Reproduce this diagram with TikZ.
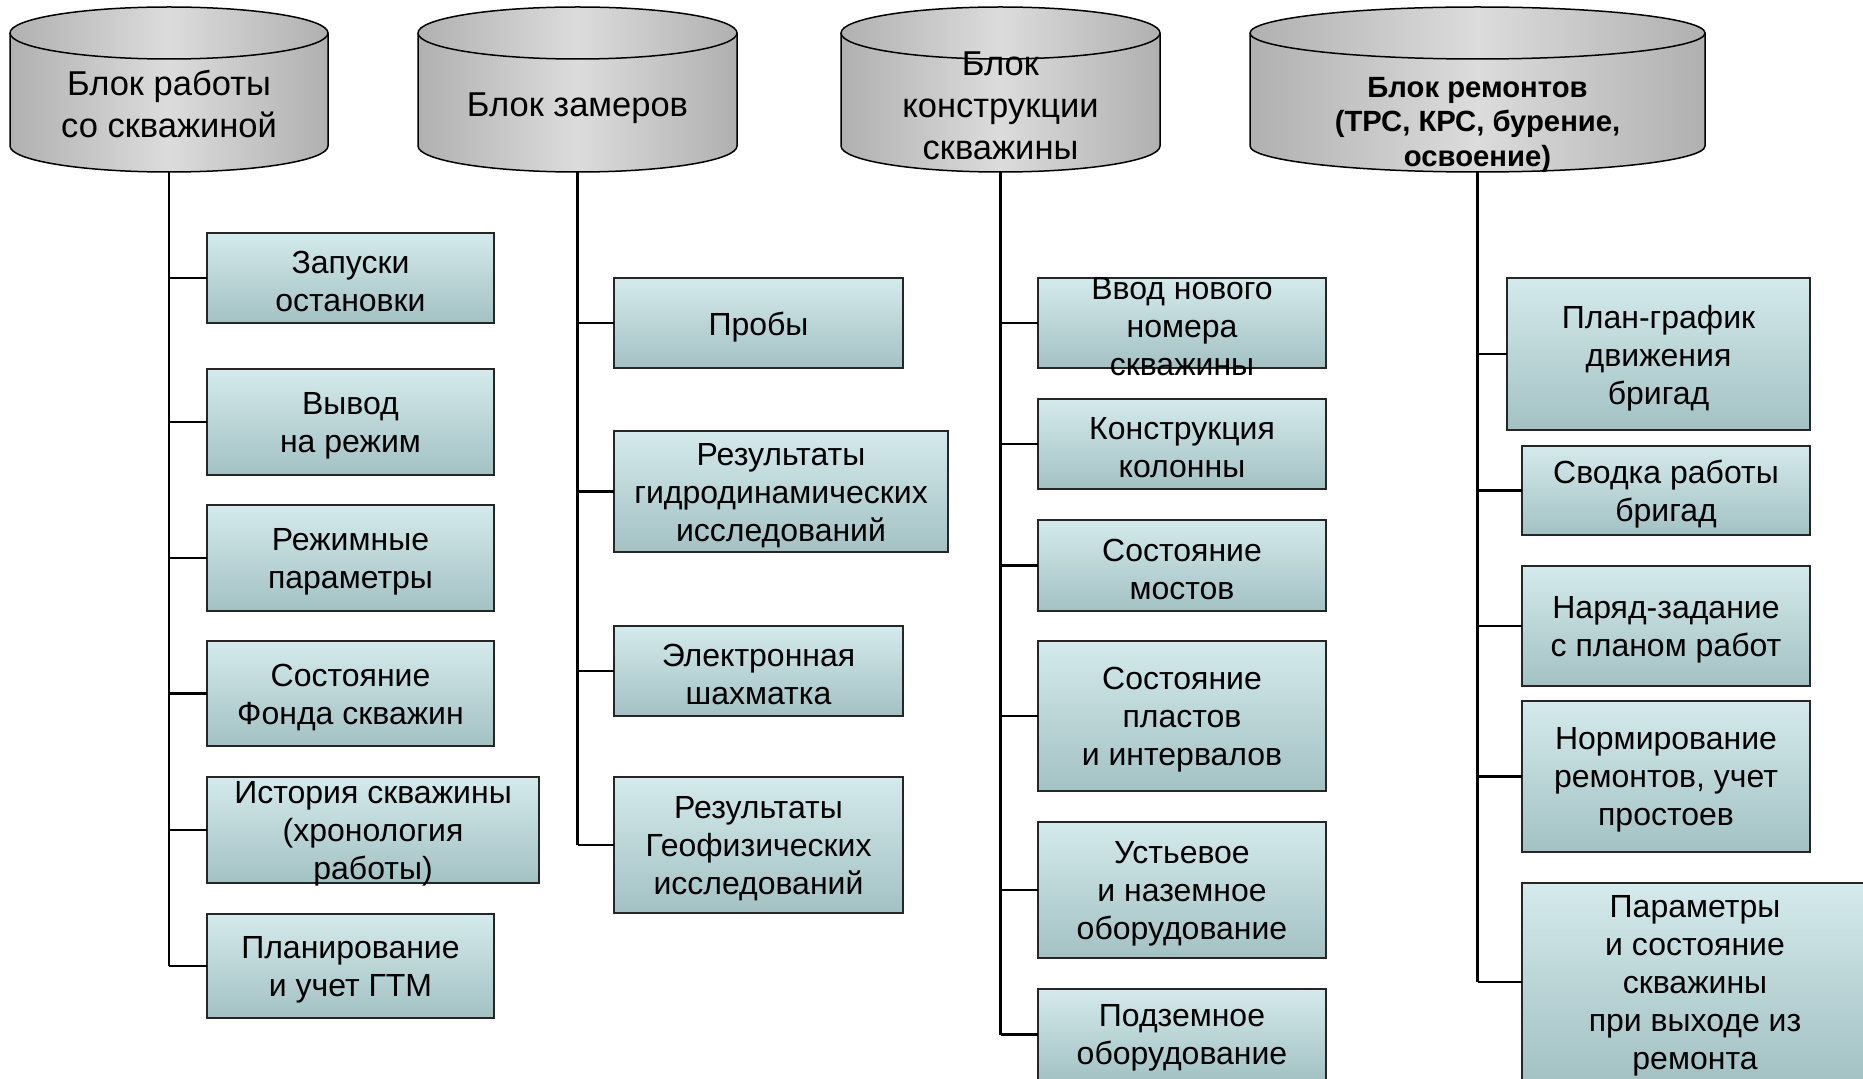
\documentclass[tikz,border=0pt]{standalone}
\usepackage{fontspec}
\setmainfont{Liberation Sans}
\definecolor{boxT}{RGB}{212,234,236}
\definecolor{boxB}{RGB}{163,193,195}
\definecolor{cylE}{RGB}{176,176,176}
\definecolor{cylM}{RGB}{220,220,220}
\tikzset{
 box/.style={draw=black!85, line width=0.55pt, top color=boxT, bottom color=boxB, inner sep=0pt, outer sep=0pt},
 txt/.style={align=center, font=\fontsize{12.8}{15.2}\selectfont, inner sep=0pt, yshift=-1.5pt},
 cyltxt/.style={align=center, font=\fontsize{13.8}{16.8}\selectfont, inner sep=0pt},
 cylbold/.style={align=center, font=\bfseries\fontsize{11.7}{13.8}\selectfont, inner sep=0pt},
 cylnode/.style={inner sep=0pt, outer sep=0pt},
 stemline/.style={line width=0.9pt, black},
 branch/.style={line width=0.85pt, black},
 cylshade/.style={left color=cylE, right color=cylE, middle color=cylM, draw=black, line width=0.6pt},
}
\newcommand\mycyl[3]{%
 \pgfmathsetmacro\cylrx{(#3-#2)/2}
 \path[cylshade] (#2,33) -- (#2,146) arc[start angle=180,end angle=0,x radius=\cylrx,y radius=26] -- (#3,33) arc[start angle=0,end angle=-180,x radius=\cylrx,y radius=26] -- cycle;
 \draw[line width=0.6pt] (#2,33) arc[start angle=180,end angle=0,x radius=\cylrx,y radius=26];
 \node[cylnode, minimum width={(#3-#2)*0.4pt}, minimum height={166*0.4pt}] (#1) at ({(#2+#3)/2},89) {};
}
\newcommand\bx[6]{%
 \node[box, minimum width={(#4-#2)*0.4pt}, minimum height={(#5-#3)*0.4pt}] (#1) at ({(#2+#4)/2},{(#3+#5)/2}) {};
 \node[txt] (#1t) at (#1.center) {#6};
}
\begin{document}
\begin{tikzpicture}[x=0.4pt,y=-0.4pt]
\fill[white] (0,0) rectangle (1863,1078);
\useasboundingbox (0,0) rectangle (1863,1078);

% cylinders
\mycyl{c1}{10}{328}
\mycyl{c2}{418}{737}
\mycyl{c3}{841}{1160}
\mycyl{c4}{1250}{1705}
\node[cyltxt] (c1t) at (169,104) {Блок работы\\со скважиной};
\node[cyltxt] (c2t) at (577.5,108) {Блок замеров};
\node[cyltxt] (c3t) at (1000.5,105.5) {Блок\\конструкции\\скважины};
\node[cylbold] (c4t) at (1477.5,124.5) {Блок ремонтов\\(ТРС, КРС, бурение,\\освоение)};

% column 1
\bx{b11}{207}{233}{494}{323}{Запуски\\остановки}
\bx{b12}{207}{369}{494}{475}{Вывод\\на режим}
\bx{b13}{207}{505}{494}{611}{Режимные\\параметры}
\bx{b14}{207}{641}{494}{746}{Состояние\\Фонда скважин}
\bx{b15}{207}{777}{539}{883}{История скважины\\(хронология\\работы)}
\bx{b16}{207}{914}{494}{1018}{Планирование\\и учет ГТМ}

% column 2
\bx{b21}{614}{278}{903}{368}{Пробы}
\bx{b22}{614}{431}{948}{552}{Результаты\\гидродинамических\\исследований}
\bx{b23}{614}{626}{903}{716}{Электронная\\шахматка}
\bx{b24}{614}{777}{903}{913}{Результаты\\Геофизических\\исследований}

% column 3
\bx{b31}{1038}{278}{1326}{368}{Ввод нового\\номера\\скважины}
\bx{b32}{1038}{399}{1326}{489}{Конструкция\\колонны}
\bx{b33}{1038}{520}{1326}{611}{Состояние\\мостов}
\bx{b34}{1038}{641}{1326}{791}{Состояние\\пластов\\и интервалов}
\bx{b35}{1038}{822}{1326}{958}{Устьевое\\и наземное\\оборудование}
\bx{b36}{1038}{989}{1326}{1080}{Подземное\\оборудование}

% column 4
\bx{b41}{1507}{278}{1810}{430}{План-график\\движения\\бригад}
\bx{b42}{1522}{446}{1810}{535}{Сводка работы\\бригад}
\bx{b43}{1522}{566}{1810}{686}{Наряд-задание\\с планом работ}
\bx{b44}{1522}{701}{1810}{852}{Нормирование\\ремонтов, учет\\простоев}
\bx{b45}{1522}{883}{1868}{1081}{Параметры\\и состояние\\скважины\\при выходе из\\ремонта}

% connectors
\draw[stemline] (c1.south) -- (c1.south |- b16.west);
\foreach \b in {b11,b12,b13,b14,b15,b16} \draw[branch] (c1.south |- \b.west) -- (\b.west);
\draw[stemline] (c2.south) -- (c2.south |- b24.west);
\foreach \b in {b21,b22,b23,b24} \draw[branch] (c2.south |- \b.west) -- (\b.west);
\draw[stemline] (c3.south) -- (c3.south |- b36.west);
\foreach \b in {b31,b32,b33,b34,b35,b36} \draw[branch] (c3.south |- \b.west) -- (\b.west);
\draw[stemline] (c4.south) -- (c4.south |- b45.west);
\foreach \b in {b41,b42,b43,b44,b45} \draw[branch] (c4.south |- \b.west) -- (\b.west);
\end{tikzpicture}
\end{document}
